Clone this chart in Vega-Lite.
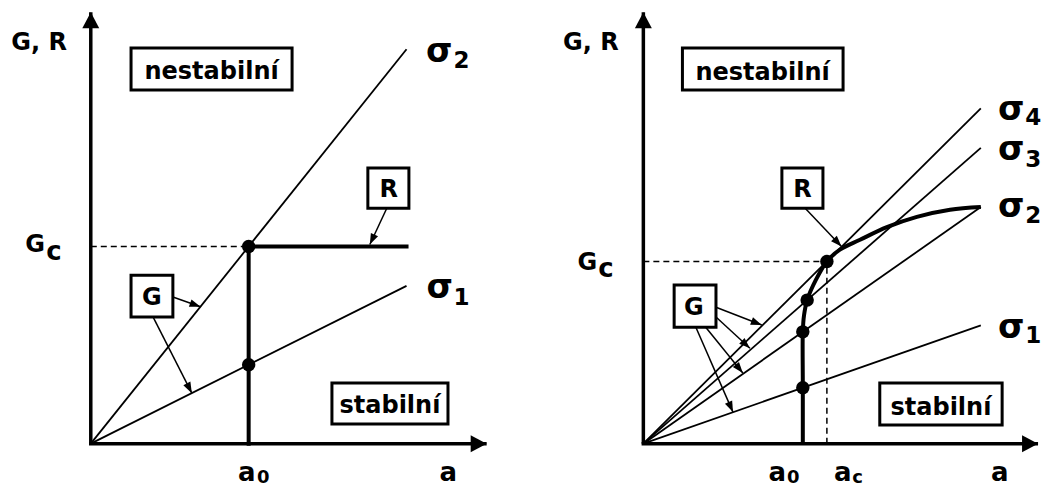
{
  "$schema": "https://vega.github.io/schema/vega-lite/v6.json",
  "padding": 0,
  "spacing": 0,
  "bounds": "flush",
  "config": {"view": {"stroke": null}, "font": "DejaVu Sans", "text": {"font": "DejaVu Sans", "fontWeight": "bold", "color": "black", "align": "center", "baseline": "alphabetic"}},
  "resolve": {"scale": {"x": "independent", "y": "independent"}},
  "datasets": {
    "segments": [
      {"panel": "L", "kind": "axis", "x": 0, "y": 0, "x2": 0, "y2": 10.94},
      {"panel": "L", "kind": "axis", "x": -0.045, "y": 0, "x2": 10.03, "y2": 0},
      {"panel": "L", "kind": "sigma", "x": 0, "y": 0, "x2": 8, "y2": 10},
      {"panel": "L", "kind": "sigma", "x": 0, "y": 0, "x2": 8, "y2": 4},
      {"panel": "L", "kind": "dash", "x": 0, "y": 5, "x2": 4, "y2": 5},
      {"panel": "L", "kind": "R", "x": 4, "y": 0, "x2": 4, "y2": 5},
      {"panel": "L", "kind": "R", "x": 4, "y": 5, "x2": 8, "y2": 5},
      {"panel": "L", "kind": "arrow", "x": 7.5, "y": 5.97, "x2": 7.07, "y2": 5.05},
      {"panel": "L", "kind": "arrow", "x": 2.08, "y": 3.72, "x2": 2.78, "y2": 3.47},
      {"panel": "L", "kind": "arrow", "x": 1.58, "y": 3.21, "x2": 2.56, "y2": 1.28},
      {"panel": "R", "kind": "axis", "x": 0, "y": 0, "x2": 0, "y2": 10.94},
      {"panel": "R", "kind": "axis", "x": -0.045, "y": 0, "x2": 10.0, "y2": 0},
      {"panel": "R", "kind": "sigma", "x": 0, "y": 0, "x2": 8.55, "y2": 8.5},
      {"panel": "R", "kind": "sigma", "x": 0, "y": 0, "x2": 8.55, "y2": 7.5},
      {"panel": "R", "kind": "sigma", "x": 0, "y": 0, "x2": 8.55, "y2": 6.0},
      {"panel": "R", "kind": "sigma", "x": 0, "y": 0, "x2": 8.55, "y2": 3.0},
      {"panel": "R", "kind": "dash", "x": 0, "y": 4.62, "x2": 4.65, "y2": 4.62},
      {"panel": "R", "kind": "dash", "x": 4.65, "y": 0, "x2": 4.65, "y2": 4.62},
      {"panel": "R", "kind": "arrow", "x": 4.1, "y": 5.97, "x2": 5.02, "y2": 5.0},
      {"panel": "R", "kind": "arrow", "x": 1.84, "y": 3.46, "x2": 3.0, "y2": 3.01},
      {"panel": "R", "kind": "arrow", "x": 1.84, "y": 3.21, "x2": 2.7, "y2": 2.42},
      {"panel": "R", "kind": "arrow", "x": 1.58, "y": 2.95, "x2": 2.52, "y2": 1.79},
      {"panel": "R", "kind": "arrow", "x": 1.33, "y": 2.95, "x2": 2.27, "y2": 0.8}
    ],
    "curve": [
      {"i": 0, "x": 4.04, "y": 0},
      {"i": 1, "x": 4.04, "y": 1.5},
      {"i": 2, "x": 4.04, "y": 2.835},
      {"i": 3, "x": 4.07, "y": 3.25},
      {"i": 4, "x": 4.15, "y": 3.64},
      {"i": 5, "x": 4.38, "y": 4.17},
      {"i": 6, "x": 4.65, "y": 4.62},
      {"i": 7, "x": 4.98, "y": 4.92},
      {"i": 8, "x": 5.49, "y": 5.17},
      {"i": 9, "x": 6.17, "y": 5.49},
      {"i": 10, "x": 6.93, "y": 5.75},
      {"i": 11, "x": 7.77, "y": 5.93},
      {"i": 12, "x": 8.55, "y": 6.0}
    ],
    "dots": [
      {"panel": "L", "x": 4, "y": 5},
      {"panel": "L", "x": 4, "y": 2},
      {"panel": "R", "x": 4.04, "y": 1.42},
      {"panel": "R", "x": 4.04, "y": 2.835},
      {"panel": "R", "x": 4.15, "y": 3.64},
      {"panel": "R", "x": 4.65, "y": 4.62}
    ],
    "boxes": [
      {"panel": "L", "x": 1.02, "x2": 5.1, "y": 8.97, "y2": 10.03},
      {"panel": "L", "x": 6.11, "x2": 9.05, "y": 0.5, "y2": 1.54},
      {"panel": "L", "x": 7.02, "x2": 8.06, "y": 5.97, "y2": 6.99},
      {"panel": "L", "x": 1.02, "x2": 2.08, "y": 3.21, "y2": 4.27},
      {"panel": "R", "x": 0.99, "x2": 5.06, "y": 8.97, "y2": 10.03},
      {"panel": "R", "x": 5.99, "x2": 9.09, "y": 0.47, "y2": 1.54},
      {"panel": "R", "x": 3.51, "x2": 4.55, "y": 5.97, "y2": 6.99},
      {"panel": "R", "x": 0.78, "x2": 1.84, "y": 2.95, "y2": 4.02}
    ],
    "labels": [
      {"panel": "L", "role": "text", "text": "G, R", "x": -1.31, "y": 9.98},
      {"panel": "L", "role": "text", "text": "G", "x": -1.41, "y": 4.86},
      {"panel": "L", "role": "letter", "text": "c", "x": -0.93, "y": 4.66},
      {"panel": "L", "role": "letter", "text": "a", "x": 3.95, "y": -0.95},
      {"panel": "L", "role": "sub", "text": "0", "x": 4.37, "y": -1.0},
      {"panel": "L", "role": "letter", "text": "a", "x": 9.06, "y": -0.95},
      {"panel": "L", "role": "sigma", "text": "σ", "x": 8.83, "y": 9.67},
      {"panel": "L", "role": "digit", "text": "2", "x": 9.39, "y": 9.52},
      {"panel": "L", "role": "sigma", "text": "σ", "x": 8.84, "y": 3.69},
      {"panel": "L", "role": "digit", "text": "1", "x": 9.39, "y": 3.51},
      {"panel": "L", "role": "text", "text": "nestabilní", "x": 3.06, "y": 9.24},
      {"panel": "L", "role": "text", "text": "stabilní", "x": 7.58, "y": 0.77},
      {"panel": "L", "role": "text", "text": "R", "x": 7.55, "y": 6.25},
      {"panel": "L", "role": "text", "text": "G", "x": 1.55, "y": 3.51},
      {"panel": "R", "role": "text", "text": "G, R", "x": -1.33, "y": 9.98},
      {"panel": "R", "role": "text", "text": "G", "x": -1.42, "y": 4.4},
      {"panel": "R", "role": "letter", "text": "c", "x": -0.95, "y": 4.22},
      {"panel": "R", "role": "letter", "text": "a", "x": 3.39, "y": -0.95},
      {"panel": "R", "role": "sub", "text": "0", "x": 3.8, "y": -1.0},
      {"panel": "R", "role": "letter", "text": "a", "x": 5.05, "y": -0.95},
      {"panel": "R", "role": "sub", "text": "c", "x": 5.43, "y": -1.0},
      {"panel": "R", "role": "letter", "text": "a", "x": 9.03, "y": -0.95},
      {"panel": "R", "role": "sigma", "text": "σ", "x": 9.32, "y": 8.2},
      {"panel": "R", "role": "digit", "text": "4", "x": 9.88, "y": 8.08},
      {"panel": "R", "role": "sigma", "text": "σ", "x": 9.32, "y": 7.19},
      {"panel": "R", "role": "digit", "text": "3", "x": 9.88, "y": 7.01},
      {"panel": "R", "role": "sigma", "text": "σ", "x": 9.32, "y": 5.74},
      {"panel": "R", "role": "digit", "text": "2", "x": 9.88, "y": 5.59},
      {"panel": "R", "role": "sigma", "text": "σ", "x": 9.32, "y": 2.68},
      {"panel": "R", "role": "digit", "text": "1", "x": 9.88, "y": 2.55},
      {"panel": "R", "role": "text", "text": "nestabilní", "x": 3.02, "y": 9.22},
      {"panel": "R", "role": "text", "text": "stabilní", "x": 7.54, "y": 0.72},
      {"panel": "R", "role": "text", "text": "R", "x": 4.03, "y": 6.25},
      {"panel": "R", "role": "text", "text": "G", "x": 1.28, "y": 3.26}
    ]
  },
  "hconcat": [
    {
      "width": 521,
      "height": 489,
      "encoding": {
        "x": {"field": "x", "type": "quantitative", "scale": {"domain": [-2.3, 10.9], "nice": false, "zero": false}, "axis": null},
        "y": {"field": "y", "type": "quantitative", "scale": {"domain": [-1.15, 11.25], "nice": false, "zero": false}, "axis": null}
      },
      "layer": [
        {"data": {"name": "segments"}, "transform": [{"filter": "datum.panel === 'L' && datum.kind === 'sigma'"}],
         "mark": {"type": "rule", "color": "black", "strokeWidth": 1.8},
         "encoding": {"x2": {"field": "x2"}, "y2": {"field": "y2"}}},
        {"data": {"name": "segments"}, "transform": [{"filter": "datum.panel === 'L' && datum.kind === 'dash'"}],
         "mark": {"type": "rule", "color": "black", "strokeWidth": 1.5, "strokeDash": [6, 4]},
         "encoding": {"x2": {"field": "x2"}, "y2": {"field": "y2"}}},
        {"data": {"name": "segments"}, "transform": [{"filter": "datum.panel === 'L' && datum.kind === 'axis'"}],
         "mark": {"type": "rule", "color": "black", "strokeWidth": 3.5},
         "encoding": {"x2": {"field": "x2"}, "y2": {"field": "y2"}}},
        {"data": {"name": "segments"}, "transform": [{"filter": "datum.panel === 'L' && datum.kind === 'R'"}],
         "mark": {"type": "rule", "color": "black", "strokeWidth": 4, "strokeCap": "square"},
         "encoding": {"x2": {"field": "x2"}, "y2": {"field": "y2"}}},
        {"data": {"name": "segments"}, "transform": [{"filter": "datum.panel === 'L' && datum.kind === 'arrow'"}],
         "mark": {"type": "rule", "color": "black", "strokeWidth": 1.5},
         "encoding": {"x2": {"field": "x2"}, "y2": {"field": "y2"}}},
        {"data": {"name": "boxes"}, "transform": [{"filter": "datum.panel === 'L'"}],
         "mark": {"type": "rect", "fill": "white", "stroke": "black", "strokeWidth": 3},
         "encoding": {"x2": {"field": "x2"}, "y2": {"field": "y2"}}},
        {"data": {"name": "dots"}, "transform": [{"filter": "datum.panel === 'L'"}],
         "mark": {"type": "point", "filled": true, "color": "black", "opacity": 1, "size": 180}},
        {"data": {"name": "segments"},
         "transform": [{"filter": "datum.panel === 'L' && datum.kind === 'arrow'"}, {"calculate": "atan2(datum.x2 - datum.x, datum.y2 - datum.y) * 180 / PI", "as": "heading"}],
         "mark": {"type": "point", "shape": "M0,0L-0.36,1L0.36,1Z", "filled": true, "color": "black", "opacity": 1, "size": 480},
         "encoding": {
           "x": {"field": "x2", "type": "quantitative", "scale": {"domain": [-2.3, 10.9], "nice": false, "zero": false}, "axis": null},
           "y": {"field": "y2", "type": "quantitative", "scale": {"domain": [-1.15, 11.25], "nice": false, "zero": false}, "axis": null},
           "angle": {"field": "heading", "type": "quantitative", "scale": null}}},
        {"data": {"name": "segments"},
         "transform": [{"filter": "datum.panel === 'L' && datum.kind === 'axis'"}, {"calculate": "atan2(datum.x2 - datum.x, datum.y2 - datum.y) * 180 / PI", "as": "heading"}],
         "mark": {"type": "point", "shape": "M0,0L-0.53,1L0.53,1Z", "filled": true, "color": "black", "opacity": 1, "size": 1024},
         "encoding": {
           "x": {"field": "x2", "type": "quantitative", "scale": {"domain": [-2.3, 10.9], "nice": false, "zero": false}, "axis": null},
           "y": {"field": "y2", "type": "quantitative", "scale": {"domain": [-1.15, 11.25], "nice": false, "zero": false}, "axis": null},
           "angle": {"field": "heading", "type": "quantitative", "scale": null}}},
        {"data": {"name": "labels"}, "transform": [{"filter": "datum.panel === 'L' && datum.role === 'text'"}],
         "mark": {"type": "text", "fontSize": 24}, "encoding": {"text": {"field": "text"}}},
        {"data": {"name": "labels"}, "transform": [{"filter": "datum.panel === 'L' && datum.role === 'digit'"}],
         "mark": {"type": "text", "fontSize": 23}, "encoding": {"text": {"field": "text"}}},
        {"data": {"name": "labels"}, "transform": [{"filter": "datum.panel === 'L' && datum.role === 'letter'"}],
         "mark": {"type": "text", "fontSize": 26}, "encoding": {"text": {"field": "text"}}},
        {"data": {"name": "labels"}, "transform": [{"filter": "datum.panel === 'L' && datum.role === 'sub'"}],
         "mark": {"type": "text", "fontSize": 18}, "encoding": {"text": {"field": "text"}}},
        {"data": {"name": "labels"}, "transform": [{"filter": "datum.panel === 'L' && datum.role === 'sigma'"}],
         "mark": {"type": "text", "fontSize": 34}, "encoding": {"text": {"field": "text"}}}
      ]
    },
    {
      "width": 521,
      "height": 489,
      "encoding": {
        "x": {"field": "x", "type": "quantitative", "scale": {"domain": [-3.1, 10.1], "nice": false, "zero": false}, "axis": null},
        "y": {"field": "y", "type": "quantitative", "scale": {"domain": [-1.15, 11.25], "nice": false, "zero": false}, "axis": null}
      },
      "layer": [
        {"data": {"name": "segments"}, "transform": [{"filter": "datum.panel === 'R' && datum.kind === 'sigma'"}],
         "mark": {"type": "rule", "color": "black", "strokeWidth": 1.8},
         "encoding": {"x2": {"field": "x2"}, "y2": {"field": "y2"}}},
        {"data": {"name": "segments"}, "transform": [{"filter": "datum.panel === 'R' && datum.kind === 'dash'"}],
         "mark": {"type": "rule", "color": "black", "strokeWidth": 1.5, "strokeDash": [6, 4]},
         "encoding": {"x2": {"field": "x2"}, "y2": {"field": "y2"}}},
        {"data": {"name": "segments"}, "transform": [{"filter": "datum.panel === 'R' && datum.kind === 'axis'"}],
         "mark": {"type": "rule", "color": "black", "strokeWidth": 3.5},
         "encoding": {"x2": {"field": "x2"}, "y2": {"field": "y2"}}},
        {"data": {"name": "curve"},
         "mark": {"type": "line", "interpolate": "catmull-rom", "color": "black", "strokeWidth": 4},
         "encoding": {"order": {"field": "i", "type": "quantitative"}}},
        {"data": {"name": "segments"}, "transform": [{"filter": "datum.panel === 'R' && datum.kind === 'arrow'"}],
         "mark": {"type": "rule", "color": "black", "strokeWidth": 1.5},
         "encoding": {"x2": {"field": "x2"}, "y2": {"field": "y2"}}},
        {"data": {"name": "boxes"}, "transform": [{"filter": "datum.panel === 'R'"}],
         "mark": {"type": "rect", "fill": "white", "stroke": "black", "strokeWidth": 3},
         "encoding": {"x2": {"field": "x2"}, "y2": {"field": "y2"}}},
        {"data": {"name": "dots"}, "transform": [{"filter": "datum.panel === 'R'"}],
         "mark": {"type": "point", "filled": true, "color": "black", "opacity": 1, "size": 180}},
        {"data": {"name": "segments"},
         "transform": [{"filter": "datum.panel === 'R' && datum.kind === 'arrow'"}, {"calculate": "atan2(datum.x2 - datum.x, datum.y2 - datum.y) * 180 / PI", "as": "heading"}],
         "mark": {"type": "point", "shape": "M0,0L-0.36,1L0.36,1Z", "filled": true, "color": "black", "opacity": 1, "size": 480},
         "encoding": {
           "x": {"field": "x2", "type": "quantitative", "scale": {"domain": [-3.1, 10.1], "nice": false, "zero": false}, "axis": null},
           "y": {"field": "y2", "type": "quantitative", "scale": {"domain": [-1.15, 11.25], "nice": false, "zero": false}, "axis": null},
           "angle": {"field": "heading", "type": "quantitative", "scale": null}}},
        {"data": {"name": "segments"},
         "transform": [{"filter": "datum.panel === 'R' && datum.kind === 'axis'"}, {"calculate": "atan2(datum.x2 - datum.x, datum.y2 - datum.y) * 180 / PI", "as": "heading"}],
         "mark": {"type": "point", "shape": "M0,0L-0.53,1L0.53,1Z", "filled": true, "color": "black", "opacity": 1, "size": 1024},
         "encoding": {
           "x": {"field": "x2", "type": "quantitative", "scale": {"domain": [-3.1, 10.1], "nice": false, "zero": false}, "axis": null},
           "y": {"field": "y2", "type": "quantitative", "scale": {"domain": [-1.15, 11.25], "nice": false, "zero": false}, "axis": null},
           "angle": {"field": "heading", "type": "quantitative", "scale": null}}},
        {"data": {"name": "labels"}, "transform": [{"filter": "datum.panel === 'R' && datum.role === 'text'"}],
         "mark": {"type": "text", "fontSize": 24}, "encoding": {"text": {"field": "text"}}},
        {"data": {"name": "labels"}, "transform": [{"filter": "datum.panel === 'R' && datum.role === 'digit'"}],
         "mark": {"type": "text", "fontSize": 23}, "encoding": {"text": {"field": "text"}}},
        {"data": {"name": "labels"}, "transform": [{"filter": "datum.panel === 'R' && datum.role === 'letter'"}],
         "mark": {"type": "text", "fontSize": 26}, "encoding": {"text": {"field": "text"}}},
        {"data": {"name": "labels"}, "transform": [{"filter": "datum.panel === 'R' && datum.role === 'sub'"}],
         "mark": {"type": "text", "fontSize": 18}, "encoding": {"text": {"field": "text"}}},
        {"data": {"name": "labels"}, "transform": [{"filter": "datum.panel === 'R' && datum.role === 'sigma'"}],
         "mark": {"type": "text", "fontSize": 34}, "encoding": {"text": {"field": "text"}}}
      ]
    }
  ]
}
